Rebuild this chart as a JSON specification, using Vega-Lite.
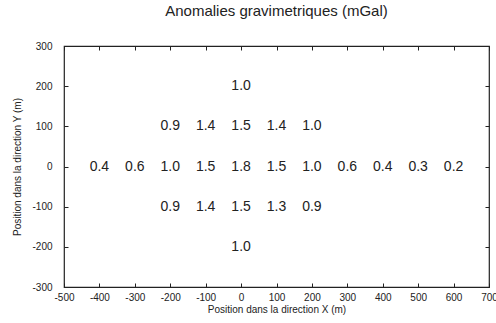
{
  "$schema": "https://vega.github.io/schema/vega-lite/v6.json",
  "width": 425,
  "height": 241,
  "autosize": {"type": "none"},
  "padding": {"left": 64, "top": 46, "right": 7, "bottom": 36},
  "background": "white",
  "title": {"text": "Anomalies gravimetriques (mGal)", "font": "Liberation Sans", "fontSize": 15, "fontWeight": "normal", "color": "#222", "offset": 22, "anchor": "middle"},
  "config": {
    "view": {"stroke": "#222", "strokeWidth": 1.2},
    "axis": {"domain": false, "grid": false, "tickColor": "#222", "tickWidth": 1, "tickSize": 4, "offset": -4, "labelFont": "Liberation Sans", "labelFontSize": 10, "labelColor": "#222", "titleFont": "Liberation Sans", "titleFontSize": 10, "titleFontWeight": "normal", "titleColor": "#222", "labelExpr": "'' + datum.value"}
  },
  "data": {"values": [
    {"x": 0, "y": 200, "v": "1.0"},
    {"x": -200, "y": 100, "v": "0.9"},
    {"x": -100, "y": 100, "v": "1.4"},
    {"x": 0, "y": 100, "v": "1.5"},
    {"x": 100, "y": 100, "v": "1.4"},
    {"x": 200, "y": 100, "v": "1.0"},
    {"x": -400, "y": 0, "v": "0.4"},
    {"x": -300, "y": 0, "v": "0.6"},
    {"x": -200, "y": 0, "v": "1.0"},
    {"x": -100, "y": 0, "v": "1.5"},
    {"x": 0, "y": 0, "v": "1.8"},
    {"x": 100, "y": 0, "v": "1.5"},
    {"x": 200, "y": 0, "v": "1.0"},
    {"x": 300, "y": 0, "v": "0.6"},
    {"x": 400, "y": 0, "v": "0.4"},
    {"x": 500, "y": 0, "v": "0.3"},
    {"x": 600, "y": 0, "v": "0.2"},
    {"x": -200, "y": -100, "v": "0.9"},
    {"x": -100, "y": -100, "v": "1.4"},
    {"x": 0, "y": -100, "v": "1.5"},
    {"x": 100, "y": -100, "v": "1.3"},
    {"x": 200, "y": -100, "v": "0.9"},
    {"x": 0, "y": -200, "v": "1.0"}
  ]},
  "resolve": {"axis": {"x": "independent", "y": "independent"}},
  "layer": [
    {
      "mark": {"type": "text", "font": "Liberation Sans", "fontSize": 14, "color": "#222", "baseline": "middle", "align": "center"},
      "encoding": {
        "x": {"field": "x", "type": "quantitative", "scale": {"domain": [-500, 700], "nice": false, "zero": false}, "axis": {"values": [-500,-400,-300,-200,-100,0,100,200,300,400,500,600,700], "title": "Position dans la direction X (m)", "labelPadding": 5, "titlePadding": 2, "labelFlush": false, "labelOverlap": false}},
        "y": {"field": "y", "type": "quantitative", "scale": {"domain": [-300, 300], "nice": false, "zero": false}, "axis": {"values": [-300,-200,-100,0,100,200,300], "title": "Position dans la direction Y (m)", "labelPadding": 12, "titlePadding": 9, "labelFlush": false}},
        "text": {"field": "v"}
      }
    },
    {
      "mark": {"type": "text", "opacity": 0},
      "encoding": {
        "x": {"field": "x", "type": "quantitative", "scale": {"domain": [-500, 700], "nice": false, "zero": false}, "axis": {"orient": "top", "values": [-500,-400,-300,-200,-100,0,100,200,300,400,500,600,700], "labels": false, "title": null}},
        "y": {"field": "y", "type": "quantitative", "scale": {"domain": [-300, 300], "nice": false, "zero": false}, "axis": {"orient": "right", "values": [-300,-200,-100,0,100,200,300], "labels": false, "title": null}},
        "text": {"field": "v"}
      }
    }
  ]
}
